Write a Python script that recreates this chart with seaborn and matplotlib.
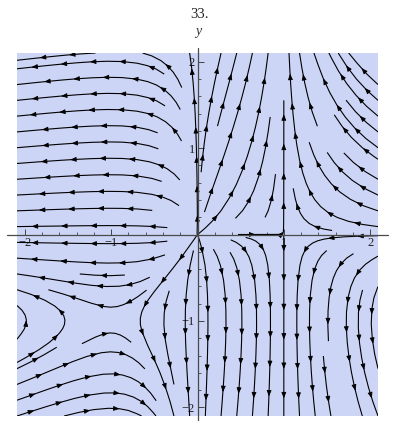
import numpy as np
import matplotlib
matplotlib.use("Agg")
import matplotlib.pyplot as plt
from matplotlib.patches import FancyArrowPatch
import seaborn as sns

sns.set_theme(style="white")
plt.rcParams["font.family"] = ["Liberation Serif", "DejaVu Serif"]
plt.rcParams["axes.unicode_minus"] = True

# Plot window and axes decorations
x_range = [-2.09, 2.09]
y_range = [-2.10, 2.10]
major_ticks = [-2, -1, 1, 2]
minor_ticks = [-1.8, -1.6, -1.4, -1.2, -0.8, -0.6, -0.4, -0.2,
               0.2, 0.4, 0.6, 0.8, 1.2, 1.4, 1.6, 1.8]
title_text = "33."
y_label = "y"

# System: x' = x(1 - x)(1 + y),  y' = y(1 + x)
xs = np.linspace(x_range[0], x_range[1], 241)
ys = np.linspace(y_range[0], y_range[1], 241)
X, Y = np.meshgrid(xs, ys)
U = X * (1 - X) * (1 + Y)
V = Y * (1 + X)

W, H = 398, 421
fig = plt.figure(figsize=(W / 100, H / 100), dpi=100)
ax = fig.add_axes([17 / W, 5 / H, 361 / W, 363 / H])
ax.set_facecolor("#CDD5F6")

sp = ax.streamplot(X, Y, U, V, density=0.8, color="black", linewidth=0.8,
                   arrowsize=0.7, arrowstyle="-|>")
# drop the single mid-line arrowheads; several are placed per line below
for patch in list(ax.patches):
    patch.remove()

# Each segment of the line collection is one whole trajectory
paths = [np.asarray(p) for p in sp.lines.get_segments()]

spacing = 0.34
back = 0.04
for p in paths:
    d = np.hypot(np.diff(p[:, 0]), np.diff(p[:, 1]))
    s = np.concatenate([[0], np.cumsum(d)])
    keep = np.concatenate([[True], d > 1e-12])
    p, s = p[keep], s[keep]
    L = s[-1]
    if L < 0.15:
        continue
    n = max(1, int(L // spacing))
    start = (L - (n - 1) * spacing) / 2
    for k in range(n):
        t_head = start + k * spacing + back / 2
        t_tail = t_head - back
        head = (np.interp(t_head, s, p[:, 0]), np.interp(t_head, s, p[:, 1]))
        tail = (np.interp(t_tail, s, p[:, 0]), np.interp(t_tail, s, p[:, 1]))
        arr = FancyArrowPatch(tail, head,
                              arrowstyle="-|>,head_length=0.5,head_width=0.2",
                              mutation_scale=7, color="black", lw=0.6,
                              shrinkA=0, shrinkB=0, zorder=3)
        ax.add_patch(arr)

ax.set_xlim(*x_range)
ax.set_ylim(*y_range)

for side in ["top", "right"]:
    ax.spines[side].set_visible(False)
for side in ["left", "bottom"]:
    ax.spines[side].set_position("zero")
    ax.spines[side].set_color("none")

# Axis lines through the origin, running slightly past the plot window
ax.plot([-2.2, 2.2], [0, 0], color="#4a4a4a", lw=0.9, clip_on=False, zorder=5)
ax.plot([0, 0], [-2.15, 2.16], color="#4a4a4a", lw=0.9, clip_on=False, zorder=5)

ax.set_xticks(major_ticks)
ax.set_yticks(major_ticks)
ax.set_xticks(minor_ticks, minor=True)
ax.set_yticks(minor_ticks, minor=True)
ax.set_xticklabels([f"{t:d}".replace("-", "\u2212") for t in major_ticks])
ax.set_yticklabels([f"{t:d}".replace("-", "\u2212") for t in major_ticks])
ax.tick_params(which="major", direction="in", length=4, width=0.7,
               color="#444444", labelsize=9, labelcolor="#222222", pad=2)
ax.tick_params(which="minor", direction="in", length=2.5, width=0.6,
               color="#444444")
ax.tick_params(axis="x", bottom=True, which="both")
ax.tick_params(axis="y", left=True, which="both")

fig.text(200 / W, 1 - 15 / H, title_text, ha="center", va="center",
         fontsize=10.5, color="#222222")
fig.text(198 / W, 1 - 32 / H, y_label, ha="center", va="center",
         fontsize=10, style="italic", color="#333333")

fig.savefig("out.png", dpi=100)
